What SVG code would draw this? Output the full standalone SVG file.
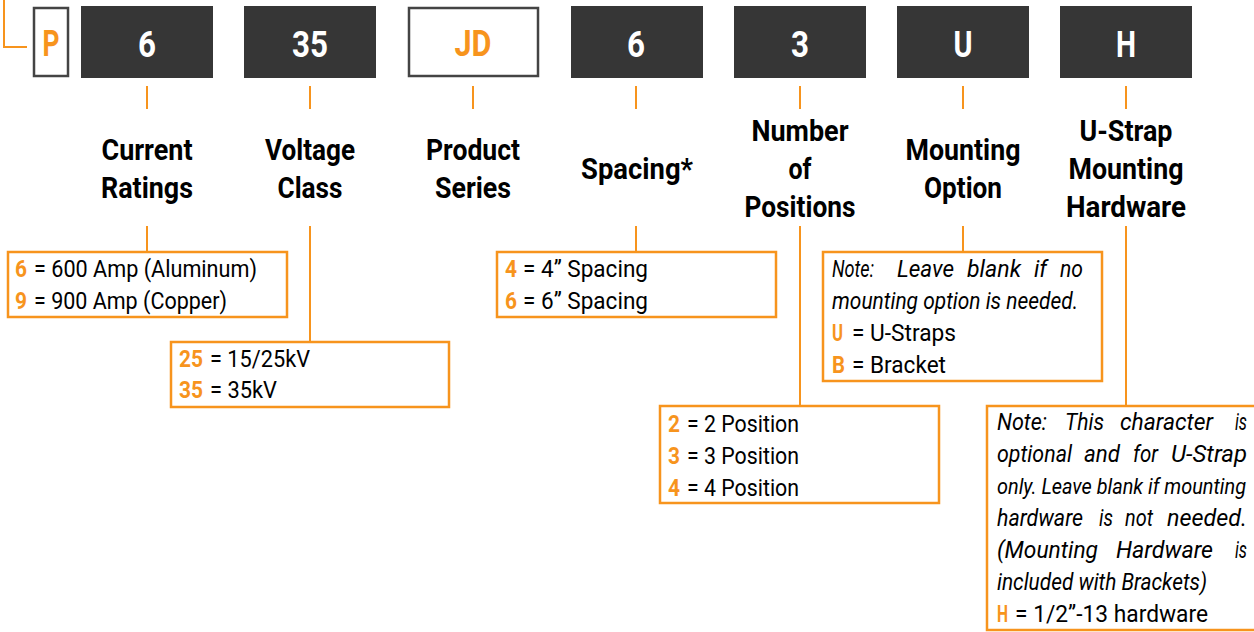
<svg xmlns="http://www.w3.org/2000/svg" width="1254" height="632" viewBox="0 0 1254 632">
<style>
.box{fill:#363636}
.wbox{fill:#fff;stroke:#444;stroke-width:2.5}
.code{font-family:Roboto,"Liberation Sans",sans-serif;font-weight:700;font-size:37px;fill:#fff;text-anchor:middle}
.ocode{fill:#F7941D}
.lbl{font-family:Roboto,"Liberation Sans",sans-serif;font-weight:700;font-size:29px;fill:#000;text-anchor:middle}
.ln{stroke:#F7941D;stroke-width:2;fill:none}
.ob{fill:#fff;stroke:#F7941D;stroke-width:2.5}
.t{font-family:Roboto,"Liberation Sans",sans-serif;font-size:24.5px;fill:#000}
.i{font-style:italic}
.k{fill:#F7941D;font-weight:700}
</style>
<g id="connectors">
<polyline class="ln" points="4,0 4,47 27,47"/>
<line class="ln" x1="147" y1="86" x2="147" y2="109"/>
<line class="ln" x1="310" y1="86" x2="310" y2="109"/>
<line class="ln" x1="473" y1="86" x2="473" y2="109"/>
<line class="ln" x1="636" y1="86" x2="636" y2="109"/>
<line class="ln" x1="800" y1="86" x2="800" y2="109"/>
<line class="ln" x1="963" y1="86" x2="963" y2="109"/>
<line class="ln" x1="1126" y1="86" x2="1126" y2="109"/>
<line class="ln" x1="147" y1="226" x2="147" y2="252"/>
<line class="ln" x1="310" y1="226" x2="310" y2="342"/>
<line class="ln" x1="636" y1="226" x2="636" y2="252"/>
<line class="ln" x1="800" y1="226" x2="800" y2="406"/>
<line class="ln" x1="963" y1="226" x2="963" y2="252"/>
<line class="ln" x1="1126" y1="226" x2="1126" y2="406"/>
</g>
<g id="code-P"><rect class="wbox" x="34" y="8" width="34" height="68"/><text class="code ocode" x="51" y="56" textLength="17" lengthAdjust="spacingAndGlyphs">P</text></g>
<g id="code-6"><rect class="box" x="81" y="6" width="132" height="72"/><text class="code" x="147" y="57" textLength="18" lengthAdjust="spacingAndGlyphs">6</text></g>
<g id="code-35"><rect class="box" x="244" y="6" width="132" height="72"/><text class="code" x="310" y="57" textLength="36" lengthAdjust="spacingAndGlyphs">35</text></g>
<g id="code-JD"><rect class="wbox" x="409" y="8" width="129" height="68"/><text class="code ocode" x="473" y="56" textLength="37" lengthAdjust="spacingAndGlyphs">JD</text></g>
<g id="code-6b"><rect class="box" x="571" y="6" width="132" height="72"/><text class="code" x="636" y="57" textLength="18" lengthAdjust="spacingAndGlyphs">6</text></g>
<g id="code-3"><rect class="box" x="734" y="6" width="132" height="72"/><text class="code" x="800" y="57" textLength="18" lengthAdjust="spacingAndGlyphs">3</text></g>
<g id="code-U"><rect class="box" x="897" y="6" width="132" height="72"/><text class="code" x="963" y="57" textLength="19" lengthAdjust="spacingAndGlyphs">U</text></g>
<g id="code-H"><rect class="box" x="1060" y="6" width="132" height="72"/><text class="code" x="1126" y="57" textLength="20" lengthAdjust="spacingAndGlyphs">H</text></g>

<g id="label-current"><text class="lbl" x="147" y="160" textLength="91" lengthAdjust="spacingAndGlyphs">Current</text><text class="lbl" x="147" y="198" textLength="92" lengthAdjust="spacingAndGlyphs">Ratings</text></g>
<g id="label-voltage"><text class="lbl" x="310" y="160" textLength="90" lengthAdjust="spacingAndGlyphs">Voltage</text><text class="lbl" x="310" y="198" textLength="65" lengthAdjust="spacingAndGlyphs">Class</text></g>
<g id="label-product"><text class="lbl" x="473" y="160" textLength="94" lengthAdjust="spacingAndGlyphs">Product</text><text class="lbl" x="473" y="198" textLength="76" lengthAdjust="spacingAndGlyphs">Series</text></g>
<g id="label-spacing"><text class="lbl" x="637" y="179" textLength="112" lengthAdjust="spacingAndGlyphs">Spacing*</text></g>
<g id="label-positions"><text class="lbl" x="800" y="141" textLength="97" lengthAdjust="spacingAndGlyphs">Number</text><text class="lbl" x="800" y="179" textLength="23" lengthAdjust="spacingAndGlyphs">of</text><text class="lbl" x="800" y="217" textLength="111" lengthAdjust="spacingAndGlyphs">Positions</text></g>
<g id="label-mounting"><text class="lbl" x="963" y="160" textLength="115" lengthAdjust="spacingAndGlyphs">Mounting</text><text class="lbl" x="963" y="198" textLength="78" lengthAdjust="spacingAndGlyphs">Option</text></g>
<g id="label-hardware"><text class="lbl" x="1126" y="141" textLength="93" lengthAdjust="spacingAndGlyphs">U-Strap</text><text class="lbl" x="1126" y="179" textLength="115" lengthAdjust="spacingAndGlyphs">Mounting</text><text class="lbl" x="1126" y="217" textLength="120" lengthAdjust="spacingAndGlyphs">Hardware</text></g>

<g id="opt-current">
<rect class="ob" x="8" y="252" width="279" height="65"/>
<text class="t k" x="15" y="277" textLength="12" lengthAdjust="spacingAndGlyphs">6</text>
<text class="t" x="34" y="277" textLength="223" lengthAdjust="spacingAndGlyphs">= 600 Amp (Aluminum)</text>
<text class="t k" x="15" y="309" textLength="12" lengthAdjust="spacingAndGlyphs">9</text>
<text class="t" x="34" y="309" textLength="193" lengthAdjust="spacingAndGlyphs">= 900 Amp (Copper)</text>
</g>
<g id="opt-voltage">
<rect class="ob" x="171" y="342" width="278" height="65"/>
<text class="t k" x="179" y="367" textLength="24" lengthAdjust="spacingAndGlyphs">25</text>
<text class="t" x="210" y="367" textLength="100" lengthAdjust="spacingAndGlyphs">= 15/25kV</text>
<text class="t k" x="179" y="398" textLength="24" lengthAdjust="spacingAndGlyphs">35</text>
<text class="t" x="210" y="398" textLength="67" lengthAdjust="spacingAndGlyphs">= 35kV</text>
</g>
<g id="opt-spacing">
<rect class="ob" x="497" y="252" width="279" height="65"/>
<text class="t k" x="505" y="277" textLength="12" lengthAdjust="spacingAndGlyphs">4</text>
<text class="t" x="523" y="277" textLength="125" lengthAdjust="spacingAndGlyphs">= 4” Spacing</text>
<text class="t k" x="505" y="309" textLength="12" lengthAdjust="spacingAndGlyphs">6</text>
<text class="t" x="523" y="309" textLength="125" lengthAdjust="spacingAndGlyphs">= 6” Spacing</text>
</g>
<g id="opt-positions">
<rect class="ob" x="660" y="406" width="279" height="97"/>
<text class="t k" x="668" y="432" textLength="12" lengthAdjust="spacingAndGlyphs">2</text>
<text class="t" x="687" y="432" textLength="112" lengthAdjust="spacingAndGlyphs">= 2 Position</text>
<text class="t k" x="668" y="464" textLength="12" lengthAdjust="spacingAndGlyphs">3</text>
<text class="t" x="687" y="464" textLength="112" lengthAdjust="spacingAndGlyphs">= 3 Position</text>
<text class="t k" x="668" y="496" textLength="12" lengthAdjust="spacingAndGlyphs">4</text>
<text class="t" x="687" y="496" textLength="112" lengthAdjust="spacingAndGlyphs">= 4 Position</text>
</g>
<g id="opt-mounting">
<rect class="ob" x="823" y="252" width="279" height="129"/>
<text class="t i" x="832" y="277" textLength="42" lengthAdjust="spacingAndGlyphs">Note:</text>
<text class="t i" x="897" y="277" textLength="57" lengthAdjust="spacingAndGlyphs">Leave</text>
<text class="t i" x="967" y="277" textLength="54" lengthAdjust="spacingAndGlyphs">blank</text>
<text class="t i" x="1034" y="277" textLength="13" lengthAdjust="spacingAndGlyphs">if</text>
<text class="t i" x="1060" y="277" textLength="23" lengthAdjust="spacingAndGlyphs">no</text>
<text class="t i" x="832" y="309" textLength="246" lengthAdjust="spacingAndGlyphs">mounting option is needed.</text>
<text class="t k" x="832" y="341" textLength="11" lengthAdjust="spacingAndGlyphs">U</text>
<text class="t" x="852" y="341" textLength="104" lengthAdjust="spacingAndGlyphs">= U-Straps</text>
<text class="t k" x="832" y="373" textLength="13" lengthAdjust="spacingAndGlyphs">B</text>
<text class="t" x="852" y="373" textLength="94" lengthAdjust="spacingAndGlyphs">= Bracket</text>
</g>
<g id="opt-hardware">
<rect class="ob" x="987" y="406" width="272" height="224"/>
<text class="t i" x="997" y="430" textLength="50" lengthAdjust="spacingAndGlyphs">Note:</text>
<text class="t i" x="1065" y="430" textLength="39" lengthAdjust="spacingAndGlyphs">This</text>
<text class="t i" x="1120" y="430" textLength="93" lengthAdjust="spacingAndGlyphs">character</text>
<text class="t i" x="1235" y="430" textLength="12" lengthAdjust="spacingAndGlyphs">is</text>
<text class="t i" x="997" y="462" textLength="75" lengthAdjust="spacingAndGlyphs">optional</text>
<text class="t i" x="1084" y="462" textLength="36" lengthAdjust="spacingAndGlyphs">and</text>
<text class="t i" x="1133" y="462" textLength="25" lengthAdjust="spacingAndGlyphs">for</text>
<text class="t i" x="1171" y="462" textLength="76" lengthAdjust="spacingAndGlyphs">U-Strap</text>
<text class="t i" x="997" y="494" style="font-size:22px" textLength="249" lengthAdjust="spacingAndGlyphs">only. Leave blank if mounting</text>
<text class="t i" x="997" y="526" textLength="86" lengthAdjust="spacingAndGlyphs">hardware</text>
<text class="t i" x="1099" y="526" textLength="14" lengthAdjust="spacingAndGlyphs">is</text>
<text class="t i" x="1125" y="526" textLength="28" lengthAdjust="spacingAndGlyphs">not</text>
<text class="t i" x="1167" y="526" textLength="80" lengthAdjust="spacingAndGlyphs">needed.</text>
<text class="t i" x="997" y="558" textLength="101" lengthAdjust="spacingAndGlyphs">(Mounting</text>
<text class="t i" x="1116" y="558" textLength="97" lengthAdjust="spacingAndGlyphs">Hardware</text>
<text class="t i" x="1235" y="558" textLength="12" lengthAdjust="spacingAndGlyphs">is</text>
<text class="t i" x="997" y="590" textLength="210" lengthAdjust="spacingAndGlyphs">included with Brackets)</text>
<text class="t k" x="997" y="622" textLength="11" lengthAdjust="spacingAndGlyphs">H</text>
<text class="t" x="1015" y="622" textLength="193" lengthAdjust="spacingAndGlyphs">= 1/2”-13 hardware</text>
</g>
</svg>
